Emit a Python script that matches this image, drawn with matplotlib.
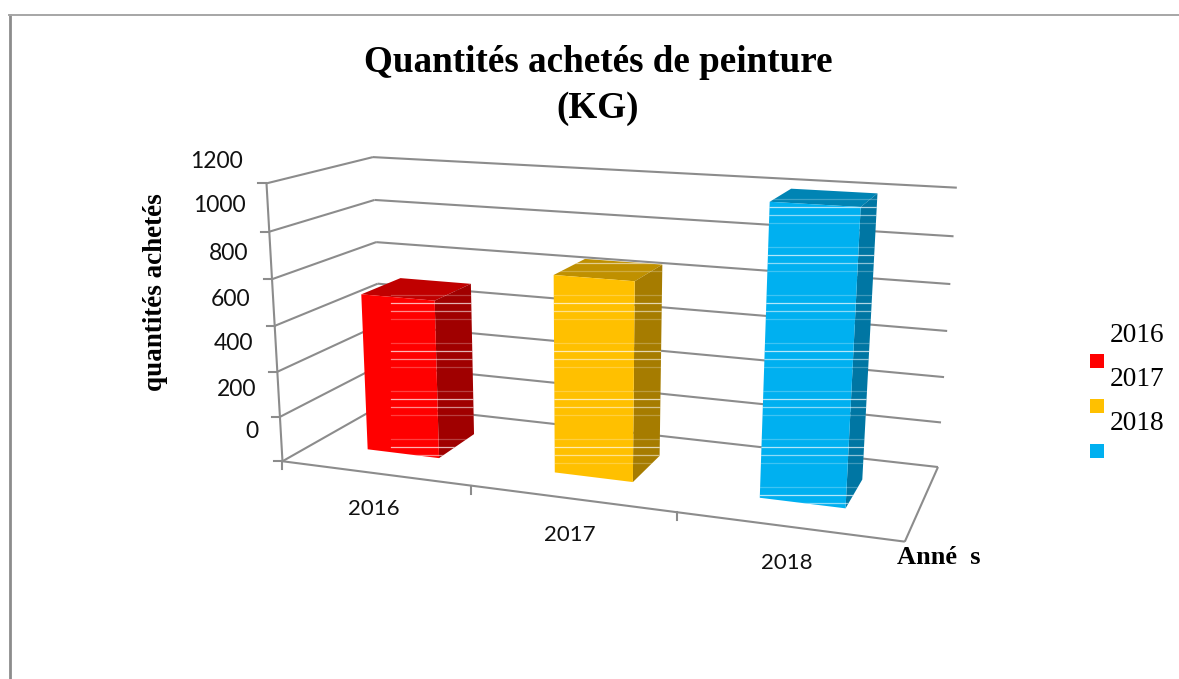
import numpy as np
import matplotlib
matplotlib.use("Agg")
import matplotlib.pyplot as plt
from matplotlib.patches import Polygon, Rectangle

years = ["2016", "2017", "2018"]
quantities = [700, 850, 1200]
front_colors = ["#FF0000", "#FFC000", "#00B0F0"]
side_colors = ["#A00000", "#A67C00", "#0076A3"]
top_colors = ["#C00000", "#BF9000", "#0084B4"]
value_ticks = [0, 200, 400, 600, 800, 1000, 1200]
tick_label_y = [432, 389, 344, 300, 253, 205, 161]
GRAY = "#8c8c8c"

# the box of the chart: (category, value, depth) -> pixel, fitted as a camera matrix
calib = [
    (0, 0, 0, 283, 460), (0, 1200, 0, 266, 184), (0, 0, 1, 382, 406), (0, 1200, 1, 373, 157),
    (3, 0, 0, 905, 541), (3, 0, 1, 938, 466), (3, 1200, 1, 957, 188), (1, 0, 0, 470, 486),
    (2, 0, 0, 677, 514), (0, 600, 0, 275, 325), (3, 600, 1, 947, 331), (0, 600, 1, 378, 283),
]
A = []
b = []
for cx, cv, cd, px, py in calib:
    A.append([cx, cv, cd, 1, 0, 0, 0, 0, -px * cx, -px * cv, -px * cd])
    A.append([0, 0, 0, 0, cx, cv, cd, 1, -py * cx, -py * cv, -py * cd])
    b += [px, py]
cam = np.append(np.linalg.lstsq(np.array(A, float), np.array(b, float), rcond=None)[0], 1).reshape(3, 4)


def project(x, v, d):
    p = cam @ np.array([x, v, d, 1.0])
    return p[0] / p[2], p[1] / p[2]


def line3d(ax, a, b, lw=1.5):
    pa, pb = project(*a), project(*b)
    ax.plot([pa[0], pb[0]], [pa[1], pb[1]], color=GRAY, lw=lw, solid_capstyle="butt", zorder=1)


fig = plt.figure(figsize=(11.79, 6.79), dpi=100)
ax = fig.add_axes([0, 0, 1, 1])
ax.set_xlim(0, 1179)
ax.set_ylim(679, 0)
ax.axis("off")

# outer frame of the chart
ax.plot([10, 10], [679, 15], color=GRAY, lw=2, zorder=1)
ax.plot([9, 1179], [15, 15], color="#a6a6a6", lw=1.4, zorder=1)

# walls
for n, v in enumerate(value_ticks):
    if v > 0:
        line3d(ax, (0, v, 0), (0, v, 1))
        line3d(ax, (0, v, 1), (3, v, 1))
    px, py = project(0, v, 0)
    ax.plot([px - 8, px], [py, py], color=GRAY, lw=1.5, zorder=1)
    ax.text(px - 24, tick_label_y[n], str(v), ha="right", va="center", family="Lato", fontsize=16.5, color="#111111")
line3d(ax, (0, 0, 0), (0, 1200, 0))

# floor
line3d(ax, (0, 0, 0), (3, 0, 0))
line3d(ax, (3, 0, 0), (3, 0, 1))
line3d(ax, (3, 0, 1), (0, 0, 1))
line3d(ax, (0, 0, 1), (0, 0, 0))
for i in range(3):
    px, py = project(i, 0, 0)
    ax.plot([px, px], [py, py + 8], color=GRAY, lw=1.5, zorder=1)

# columns
stripe_from = [391, 0, 0]
stripe_rows = [247 + 48 * k + 8 * j for k in range(-1, 6) for j in range(4)]
stripe_alpha = [0.25, 0.7, 0.55, 0.25]
for i, q in enumerate(quantities):
    x0, x1 = i + 0.298, i + 0.69
    d0, d1 = 0.3, 0.7
    front = [project(x0, 0, d0), project(x1, 0, d0), project(x1, q, d0), project(x0, q, d0)]
    side = [project(x1, 0, d0), project(x1, 0, d1), project(x1, q, d1), project(x1, q, d0)]
    top = [project(x0, q, d0), project(x1, q, d0), project(x1, q, d1), project(x0, q, d1)]
    ax.add_patch(Polygon(top, closed=True, fc=top_colors[i], ec="none", zorder=2))
    ax.add_patch(Polygon(side, closed=True, fc=side_colors[i], ec="none", zorder=2))
    ax.add_patch(Polygon(front, closed=True, fc=front_colors[i], ec="none", zorder=2))
    outline = Polygon([front[0], front[1], side[1], side[2], top[3], front[3]], closed=True,
                      transform=ax.transData, fc="none", ec="none")
    ax.add_patch(outline)
    for n, y in enumerate(stripe_rows):
        ln = ax.plot([stripe_from[i], 1179], [y, y], color="white", lw=0.9,
                     alpha=stripe_alpha[n % 4], zorder=3)[0]
        ln.set_clip_path(outline)

# category labels
for i, year in enumerate(years):
    px, py = project(i + 0.5, 0, 0)
    ax.text(px - 1, py + 36, year, ha="center", va="center", family="Lato", fontsize=16, color="#111111")

# titles
ax.text(598, 63, "Quantités achetés de peinture", ha="center", va="center",
        family="Liberation Serif", weight="bold", fontsize=26.7)
ax.text(598, 108, "(KG)", ha="center", va="center", family="Liberation Serif", weight="bold", fontsize=26.7)
ax.text(155, 292, "quantités achetés", rotation=90, ha="center", va="center",
        family="Liberation Serif", weight="bold", fontsize=19.5)
ax.text(938.5, 557, "Anné  s", ha="center", va="center", family="Liberation Serif", weight="bold", fontsize=19)

# legend
legend_text_y = [335, 379, 423]
legend_box_y = [354, 399, 444]
for i, year in enumerate(years):
    ax.add_patch(Rectangle((1090, legend_box_y[i]), 14, 14, fc=front_colors[i], ec="none"))
    ax.text(1110, legend_text_y[i], year, ha="left", va="center", family="Liberation Serif", fontsize=19.7)

fig.savefig("out.png", dpi=100)
